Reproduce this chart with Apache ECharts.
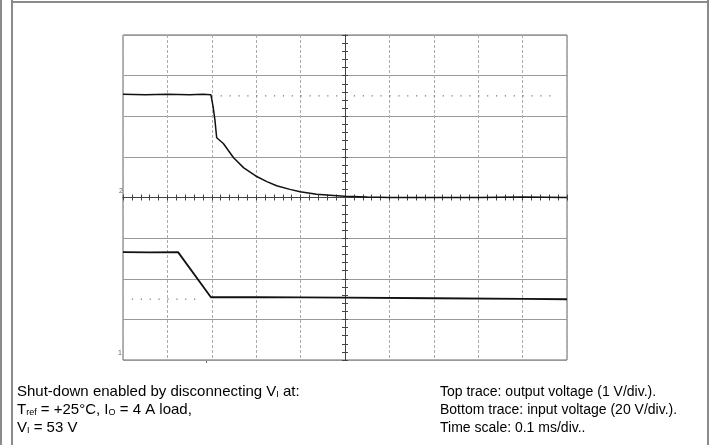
<!DOCTYPE html>
<html>
<head>
<meta charset="utf-8">
<script src="https://cdn.jsdelivr.net/npm/echarts@6/dist/echarts.min.js"></script>
<style>
html,body{margin:0;padding:0;background:#fff;}
#chart{width:715px;height:445px;}
</style>
</head>
<body>
<div id="chart"></div>
<script>
// Time relative to screen centre (ms), 0.1 ms/div
const topTime = [-0.5, -0.45, -0.4, -0.35, -0.32, -0.302, -0.297, -0.293, -0.289, -0.274, -0.251, -0.228, -0.201, -0.176, -0.154, -0.124, -0.101, -0.064, -0.026, 0, 0.05, 0.1, 0.2, 0.3, 0.4, 0.5];
// Output voltage (V), 1 V/div, ground at centre line
const topVolt = [2.54, 2.53, 2.54, 2.53, 2.54, 2.53, 2.23, 1.91, 1.47, 1.33, 0.98, 0.73, 0.53, 0.39, 0.29, 0.20, 0.14, 0.08, 0.05, 0.03, 0.01, 0.0, 0.0, 0.0, 0.01, 0.0];
const bottomTime = [-0.5, -0.44, -0.376, -0.302, -0.2, 0, 0.2, 0.4, 0.5];
// Input voltage (V), 20 V/div, ground at bottom edge
const bottomVolt = [53.1, 53.0, 53.1, 30.9, 31.0, 30.7, 30.4, 30.1, 29.9];
// Dotted level marks
const topMarkTime = [-0.28, 0.48];
const topMarkVolt = [2.5, 2.5];
const bottomMarkTime = [-0.48, -0.32];
const bottomMarkVolt = [30, 30];

const leftLines = [
  [{t:'Shut-down enabled by disconnecting V', s:'a'}, {t:'I', s:'s'}, {t:' at:', s:'a'}],
  [{t:'T', s:'a'}, {t:'ref', s:'s'}, {t:' = +25°C, I', s:'a'}, {t:'O', s:'s'}, {t:' = 4 A load,', s:'a'}],
  [{t:'V', s:'a'}, {t:'I', s:'s'}, {t:' = 53 V', s:'a'}]
];
const rightLines = [
  'Top trace: output voltage (1 V/div.).',
  'Bottom trace: input voltage (20 V/div.).',
  'Time scale: 0.1 ms/div..'
];

const zip = (a, b) => a.map((v, i) => [v, b[i]]);
const FONT = '"Liberation Sans", Arial, sans-serif';
const richLeft = {
  a: {fontSize: 15, fontFamily: FONT, color: '#222', lineHeight: 17, verticalAlign: 'bottom'},
  s: {fontSize: 9, fontFamily: FONT, color: '#222', lineHeight: 10, verticalAlign: 'bottom'}
};
const richRight = {
  a: {fontSize: 14, fontFamily: FONT, color: '#222', lineHeight: 17, verticalAlign: 'bottom'}
};

const graphics = [
  {type:'rect', shape:{x:0, y:0, width:2, height:445}, style:{fill:'#8a8a8a'}},
  {type:'rect', shape:{x:11, y:0, width:2, height:445}, style:{fill:'#8a8a8a'}},
  {type:'rect', shape:{x:11, y:1, width:698, height:2}, style:{fill:'#8a8a8a'}},
  {type:'rect', shape:{x:707, y:0, width:2, height:445}, style:{fill:'#8a8a8a'}},
  {type:'text', x:119, y:188, style:{text:'2', fontSize:7, fill:'#666', fontFamily:FONT}},
  {type:'text', x:118, y:350, style:{text:'1', fontSize:7, fill:'#666', fontFamily:FONT}},
  {type:'rect', shape:{x:206, y:360, width:1, height:3}, style:{fill:'#666'}}
];
leftLines.forEach((ln, i) => {
  graphics.push({type:'text', x:17, y:382 + i*18, style:{
    text: ln.map(p => '{' + p.s + '|' + p.t + '}').join(''), rich: richLeft}});
});
rightLines.forEach((ln, i) => {
  graphics.push({type:'text', x:440, y:382 + i*18, style:{
    text: '{a|' + ln + '}', rich: richRight}});
});

const axisColor = '#444';
const baseX = {
  type:'value', min:-0.5, max:0.5, interval:0.1,
  axisLabel:{show:false},
  axisLine:{show:true, onZero:true, onZeroAxisIndex:0, lineStyle:{color:axisColor, width:1}},
  axisTick:{show:true, length:3, lineStyle:{color:axisColor}},
  minorTick:{show:true, splitNumber:5, length:3, lineStyle:{color:axisColor}},
};
const baseY = {
  type:'value', min:-4, max:4, interval:1,
  axisLabel:{show:false},
  axisLine:{show:true, onZero:true, onZeroAxisIndex:0, lineStyle:{color:axisColor, width:1}},
  axisTick:{show:true, length:3, lineStyle:{color:axisColor}},
  minorTick:{show:true, splitNumber:5, length:3, lineStyle:{color:axisColor}},
};

const chart = echarts.init(document.getElementById('chart'), null, {renderer:'canvas'});
chart.setOption({
  animation:false,
  backgroundColor:'#fff',
  grid:{left:123, top:35, width:444, height:325, show:true, borderColor:'#666', borderWidth:1, backgroundColor:'transparent'},
  xAxis:[
    Object.assign({}, baseX, {position:'bottom', splitLine:{show:true, lineStyle:{color:'#aaa', type:[3,2], width:1}}}),
    Object.assign({}, baseX, {position:'top', splitLine:{show:false}})
  ],
  yAxis:[
    Object.assign({}, baseY, {position:'left', splitLine:{show:true, lineStyle:{color:'#999', width:1}}}),
    Object.assign({}, baseY, {position:'right', splitLine:{show:false}}),
    {type:'value', min:0, max:160, show:false, position:'right'}
  ],
  graphic: graphics,
  series:[
    {type:'line', xAxisIndex:0, yAxisIndex:0, data:zip(topMarkTime, topMarkVolt), showSymbol:false, silent:true,
      lineStyle:{color:'#777', width:1.2, type:[1.2, 7.68]}},
    {type:'line', xAxisIndex:0, yAxisIndex:2, data:zip(bottomMarkTime, bottomMarkVolt), showSymbol:false, silent:true,
      lineStyle:{color:'#777', width:1.2, type:[1.2, 7.68]}},
    {type:'line', xAxisIndex:0, yAxisIndex:0, data:zip(topTime, topVolt), showSymbol:false,
      lineStyle:{color:'#111', width:1.5}},
    {type:'line', xAxisIndex:0, yAxisIndex:2, data:zip(bottomTime, bottomVolt), showSymbol:false,
      lineStyle:{color:'#111', width:1.8}}
  ]
});
</script>
</body>
</html>
